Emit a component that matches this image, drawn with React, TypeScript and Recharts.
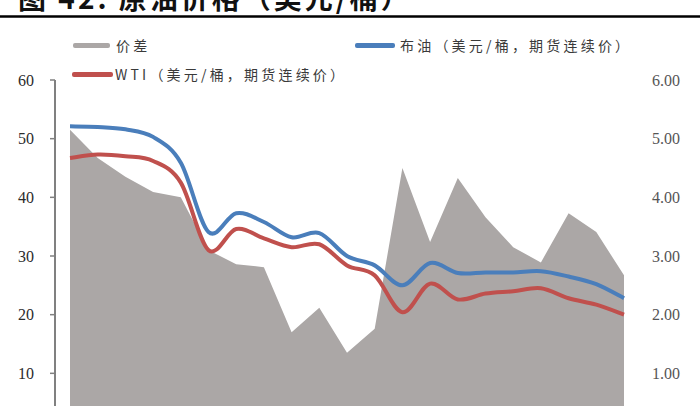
import React from 'react';
import { ComposedChart, Area, Line, XAxis, YAxis, Legend } from 'recharts';

// ---- data ----
const periods = ['1', '2', '3', '4', '5', '6', '7', '8', '9', '10', '11', '12', '13', '14', '15', '16', '17', '18', '19', '20', '21'];
const brent = [52.1, 52.0, 51.6, 50.3, 45.9, 34.1, 37.3, 35.8, 33.2, 33.9, 30.0, 28.4, 25.0, 28.8, 27.1, 27.2, 27.2, 27.4, 26.5, 25.2, 22.8];
const wti = [46.7, 47.3, 47.0, 46.2, 42.5, 31.0, 34.6, 33.0, 31.5, 32.0, 28.4, 26.7, 20.4, 25.3, 22.6, 23.6, 24.0, 24.5, 22.8, 21.7, 20.0];
const spread = [5.15, 4.67, 4.35, 4.09, 4.0, 3.1, 2.86, 2.81, 1.7, 2.12, 1.35, 1.76, 4.5, 3.24, 4.33, 3.66, 3.15, 2.89, 3.73, 3.41, 2.67];

const leftTicks = [10, 20, 30, 40, 50, 60];
const rightTicks = [1, 2, 3, 4, 5, 6];

const titleText = '图 42: 原油价格（美元/桶）';
const seriesNames: Record<string, string> = {
  spread: '价差',
  brent: '布油（美元/桶，期货连续价）',
  wti: 'WTI（美元/桶，期货连续价）',
};

const data = periods.map((p, i) => ({ period: p, brent: brent[i], wti: wti[i], spread: spread[i] }));

// ---- styles ----
const GRAY = '#ABA7A6';
const BLUE = '#4A7EBB';
const RED = '#C0504D';

// Excel-like smoothed line (uniform Catmull-Rom spline through the points)
function excelSmooth(context: any) {
  let pts: number[][] = [];
  return {
    areaStart() {},
    areaEnd() {},
    lineStart() {
      pts = [];
    },
    point(x: number, y: number) {
      pts.push([+x, +y]);
    },
    lineEnd() {
      const n = pts.length;
      if (!n) return;
      context.moveTo(pts[0][0], pts[0][1]);
      for (let i = 0; i < n - 1; i++) {
        const p0 = pts[i - 1] || pts[i];
        const p1 = pts[i];
        const p2 = pts[i + 1];
        const p3 = pts[i + 2] || p2;
        context.bezierCurveTo(
          p1[0] + (p2[0] - p0[0]) / 6,
          p1[1] + (p2[1] - p0[1]) / 6,
          p2[0] - (p3[0] - p1[0]) / 6,
          p2[1] - (p3[1] - p1[1]) / 6,
          p2[0],
          p2[1]
        );
      }
    },
  };
}

const legendLayout: Record<string, { x: number; y: number; w: number; tx: number }> = {
  spread: { x: 73, y: 45, w: 37, tx: 116 },
  brent: { x: 355, y: 45, w: 40, tx: 400 },
  wti: { x: 72, y: 74, w: 41, tx: 115 },
};
const legendColors: Record<string, string> = { spread: GRAY, brent: BLUE, wti: RED };

const LegendContent = () => (
  <div style={{ position: 'relative', width: 700, height: 90 }}>
    {Object.keys(seriesNames).map((k) => {
      const l = legendLayout[k];
      return (
        <React.Fragment key={k}>
          <div
            style={{
              position: 'absolute',
              left: l.x,
              top: l.y - 2.5,
              width: l.w,
              height: 5,
              borderRadius: 2,
              background: legendColors[k],
            }}
          />
          <span
            style={{
              position: 'absolute',
              left: l.tx,
              top: l.y - 10,
              height: 20,
              lineHeight: '20px',
              fontFamily: '"Noto Sans CJK SC", sans-serif',
              fontSize: 14,
              letterSpacing: 3.2,
              color: '#3a3a3a',
              whiteSpace: 'nowrap',
            }}
          >
            {seriesNames[k]}
          </span>
        </React.Fragment>
      );
    })}
  </div>
);

export default function App() {
  return (
    <div
      style={{
        position: 'absolute',
        left: 0,
        top: 0,
        width: 700,
        height: 406,
        overflow: 'hidden',
        background: '#fff',
      }}
    >
      <svg width={700} height={20} style={{ position: 'absolute', left: 0, top: 0 }}>
        <text
          x={18}
          y={9}
          fontFamily='"Noto Sans CJK SC", sans-serif'
          fontWeight={700}
          fontSize={28}
          letterSpacing={3}
          fill="#111"
        >
          {titleText}
        </text>
        <line x1={0} x2={700} y1={16.5} y2={16.5} stroke="#000" strokeWidth={2.5} />
      </svg>
      <ComposedChart
        width={700}
        height={436}
        data={data}
        margin={{ top: 80, right: 12, bottom: 4, left: 0 }}
      >
        <XAxis dataKey="period" hide padding={{ left: 15, right: 14 }} />
        <YAxis
          yAxisId="left"
          orientation="left"
          width={55}
          domain={[0, 60]}
          ticks={leftTicks}
          interval={0}
          axisLine={{ stroke: '#808080', strokeWidth: 2 }}
          tickLine={{ stroke: '#808080', strokeWidth: 1.5 }}
          tickSize={5}
          tickMargin={16}
          tick={{ fill: '#2b2b2b', fontSize: 16, fontFamily: '"Liberation Serif", serif' }}
        />
        <YAxis
          yAxisId="right"
          orientation="right"
          width={50}
          domain={[0, 6]}
          ticks={rightTicks}
          interval={0}
          axisLine={false}
          tickLine={false}
          tickSize={6}
          tickMargin={8}
          tickFormatter={(v: number) => v.toFixed(2)}
          tick={{ fill: '#555', fontSize: 16, fontFamily: '"Liberation Serif", serif', textAnchor: 'start' }}
        />
        <Legend
          layout="horizontal"
          verticalAlign="middle"
          align="center"
          wrapperStyle={{ top: 0, left: 0, width: 700, height: 90 }}
          content={<LegendContent />}
        />
        <Area
          yAxisId="right"
          type="linear"
          dataKey="spread"
          name={seriesNames.spread}
          fill={GRAY}
          fillOpacity={1}
          stroke="none"
          isAnimationActive={false}
        />
        <Line
          yAxisId="left"
          type={excelSmooth as any}
          dataKey="brent"
          name={seriesNames.brent}
          stroke={BLUE}
          strokeWidth={4}
          dot={false}
          activeDot={false}
          isAnimationActive={false}
        />
        <Line
          yAxisId="left"
          type={excelSmooth as any}
          dataKey="wti"
          name={seriesNames.wti}
          stroke={RED}
          strokeWidth={4}
          dot={false}
          activeDot={false}
          isAnimationActive={false}
        />
      </ComposedChart>
    </div>
  );
}
